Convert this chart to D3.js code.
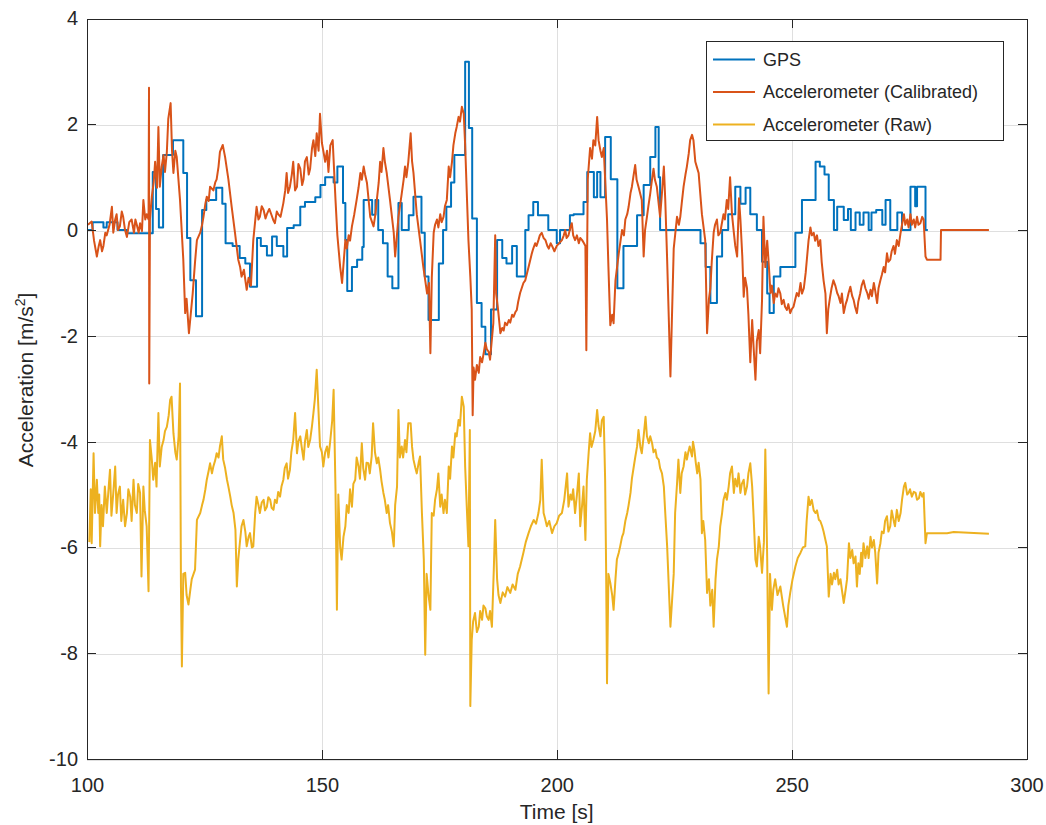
<!DOCTYPE html>
<html>
<head>
<meta charset="utf-8">
<script src="https://cdn.jsdelivr.net/npm/d3@7"></script>
<style>
  html, body { margin: 0; padding: 0; background: #fff; }
  svg { display: block; font-family: "Liberation Sans", Arial, Helvetica, sans-serif; }
  .grid line { stroke: #dfdfdf; shape-rendering: crispEdges; }
  .axis path, .axis line { stroke: #262626; shape-rendering: crispEdges; }
  .axis text { fill: #262626; font-size: 20px; }
</style>
</head>
<body>
<div id="chart"></div>
<script>
// time [s], acceleration [m/s^2]
var gps = [
  [100, 0], [101.2, 0.15], [103.5, 0.05], [104.2, 0.15], [106.5, 0.0], [108.5, -0.06],
  [114.0, 1.1], [114.7, 0.4], [115.3, 0.05], [116.2, 1.42], [118.3, 1.7], [120.5, 1.08],
  [121.3, -0.15], [122.0, -0.95], [123.2, -1.63], [124.5, 0.38], [125.4, 0.57], [127.5, 0.8],
  [128.8, 0.5], [129.5, -0.25], [131.0, -0.3], [132.5, -0.53], [133.7, -0.63], [134.7, -1.07],
  [136.2, -0.15], [137.0, -0.3], [138.3, -0.48], [139.4, -0.12], [140.4, -0.3], [141.8, -0.5],
  [142.6, 0.04], [144.0, 0.09], [145.4, 0.44], [146.4, 0.53], [148.6, 0.62], [149.7, 0.85],
  [150.7, 1.0], [152.5, 0.9], [153.3, 1.2], [154.5, 0.51], [155.0, -0.19], [155.4, -1.15],
  [156.4, -0.7], [157.5, -0.56], [158.6, -0.32], [158.9, 0.57], [160.7, 0.29], [161.4, 0.57],
  [162.0, 0.0], [163.0, -0.25], [164.0, -0.88], [165.0, -1.1], [166.3, 0.51], [167.0, 0.0],
  [168.5, 0.28], [169.5, 0.63], [171.2, -0.05], [171.9, -0.88], [172.7, -1.7], [174.9, -0.63],
  [175.8, 0.0], [176.5, 0.44], [177.5, 0.9], [178.2, 1.42], [180.5, 3.18], [181.3, 1.93],
  [182.0, 0.22], [183.0, -1.38], [184.0, -1.83], [184.8, -2.35], [186.0, -1.5], [187.3, -0.19],
  [188.4, -0.53], [189.3, -0.63], [190.5, -0.3], [191.5, -0.88], [193.3, 0.0], [194.0, 0.28],
  [195.0, 0.53], [196.0, 0.28], [198.2, 0.0], [200.0, -0.25], [200.7, 0.0], [202.8, 0.28],
  [203.6, 0.3], [205.7, 0.53], [206.5, 1.1], [207.9, 0.62], [208.6, 1.1], [209.3, 0.62],
  [210.3, 1.76], [211.5, 0.96], [212.9, -1.1], [214.2, -0.3], [217.1, 0.28], [218.5, 0.85],
  [219.9, 1.38], [221.0, 1.95], [221.7, 1.0], [222.0, 0.0], [230.6, -0.25], [231.7, -0.7],
  [232.7, -1.38], [234.1, -0.5], [235.2, 0.0], [236.5, 0.3], [238.0, 0.82], [239.1, 0.5],
  [240.2, 0.8], [241.2, 0.3], [242.6, 0.0], [243.7, -0.6], [244.8, -1.2], [245.3, -1.57],
  [246.2, -0.88], [247.6, -0.7], [250.8, -0.05], [252.2, 0.57], [255.1, 1.29], [256.0, 1.2],
  [257.0, 1.05], [257.9, 0.57], [259.0, 0.0], [259.7, 0.44], [261.1, 0.19], [262.0, 0.4],
  [262.6, 0.0], [263.6, 0.33], [264.5, 0.1], [265.3, 0.33], [266.4, 0.0], [267.0, 0.33],
  [268.0, 0.38], [269.3, 0.1], [270.0, 0.57], [271.0, 0.0], [272.5, 0.33], [273.5, 0.0],
  [275.3, 0.82], [276.3, 0.45], [276.7, 0.82], [278.5, 0.0], [279.0, 0.0]
];

var calibrated = [
  [100.2, 0.1], [101.0, 0.16], [101.5, -0.2], [102.1, -0.5], [102.5, -0.3], [102.8, -0.19],
  [103.2, -0.4], [103.5, -0.3], [103.9, -0.05], [104.2, -0.1], [104.8, 0.1], [105.3, 0.44],
  [105.6, -0.05], [106.0, 0.2], [106.3, 0.3], [106.6, 0.0], [107.0, 0.07], [107.4, 0.35],
  [107.7, 0.25], [108.1, 0.0], [108.5, -0.13], [109.0, 0.15], [109.5, 0.2], [110.0, -0.05],
  [110.3, 0.2], [110.6, 0.1], [111.0, -0.05], [111.3, 0.13], [111.7, -0.02], [112.0, 0.57],
  [112.4, 0.2], [112.7, 0.3], [113.1, 0.2], [113.2, 2.69], [113.25, -2.9], [113.4, 0.2],
  [113.8, 0.63], [114.2, 0.9], [114.5, 1.29], [114.9, 0.8], [115.2, 1.95], [115.5, 0.82],
  [115.9, 1.2], [116.3, 1.42], [116.6, 1.1], [117.0, 1.48], [117.3, 2.1], [117.8, 2.4],
  [118.1, 1.5], [118.4, 1.08], [118.8, 1.5], [119.1, 1.38], [119.8, 0.57], [120.5, -0.56],
  [120.9, -1.57], [121.2, -1.3], [121.7, -1.95], [122.5, -1.2], [123.0, -0.6], [123.4, -0.19],
  [124.1, -0.05], [124.5, 0.1], [124.8, 0.25], [125.2, 0.5], [125.5, 0.63], [125.9, 0.55],
  [126.2, 0.82], [126.9, 0.75], [127.3, 0.9], [127.6, 0.96], [128.0, 1.2], [128.3, 1.48],
  [128.9, 1.61], [129.4, 1.38], [130.1, 0.96], [130.8, 0.44], [131.5, -0.05], [132.2, -0.56],
  [132.6, -0.7], [132.9, -0.88], [133.4, -0.75], [134.0, -1.13], [134.4, -0.9], [134.9, -1.05],
  [135.4, -0.19], [136.1, 0.44], [136.5, 0.2], [136.8, 0.25], [137.2, 0.45], [137.6, 0.38],
  [138.0, 0.22], [138.3, 0.3], [138.8, 0.4], [139.3, 0.28], [139.7, 0.18], [140.0, 0.13],
  [140.4, 0.35], [140.7, 0.3], [141.2, 0.25], [141.8, 0.51], [142.2, 0.75], [142.5, 1.08],
  [142.8, 0.7], [143.2, 0.82], [143.6, 1.05], [143.9, 1.29], [144.3, 0.75], [144.7, 0.82],
  [145.0, 1.25], [145.4, 1.16], [145.8, 0.85], [146.1, 0.96], [146.4, 1.3], [146.8, 1.38],
  [147.2, 1.05], [147.5, 1.16], [147.9, 1.55], [148.2, 1.7], [148.6, 1.4], [148.9, 1.83],
  [149.3, 1.5], [149.6, 2.2], [150.0, 1.65], [150.4, 1.45], [150.7, 1.29], [151.1, 1.5],
  [151.4, 1.1], [151.8, 1.6], [152.3, 1.7], [152.9, 0.57], [153.3, -0.1], [153.9, -0.7],
  [154.3, -1.0], [155.0, -0.19], [155.3, -0.35], [155.7, -0.1], [156.0, -0.2], [156.4, 0.07],
  [156.9, 0.3], [157.4, 0.57], [157.8, 0.8], [158.2, 1.08], [158.5, 0.95], [158.9, 1.2],
  [159.2, 1.05], [159.6, 0.89], [160.3, 0.25], [161.0, 0.07], [161.4, 0.3], [161.7, 0.57],
  [162.1, 0.9], [162.4, 1.29], [162.7, 1.1], [163.1, 1.55], [163.4, 1.3], [163.8, 1.08],
  [164.5, 0.57], [165.3, -0.05], [165.6, -0.5], [166.3, 0.25], [167.0, 0.69], [167.4, 0.95],
  [167.7, 1.2], [168.0, 1.0], [168.4, 1.29], [168.9, 1.83], [169.2, 1.3], [169.5, 1.08],
  [170.2, 0.3], [170.9, -0.19], [171.6, -0.7], [172.0, -0.95], [172.4, -1.2], [172.8, -1.0],
  [173.1, -2.33], [173.4, -0.9], [173.8, -0.05], [174.1, 0.1], [174.5, 0.2], [174.8, 0.05],
  [175.2, 0.3], [175.5, 0.15], [175.9, 0.25], [176.2, 0.45], [176.6, 0.57], [177.0, 1.2],
  [177.3, 1.0], [177.7, 1.29], [178.0, 1.6], [178.4, 1.83], [178.7, 1.95], [179.1, 2.14],
  [179.4, 2.05], [179.8, 2.33], [180.2, 2.2], [180.5, 1.61], [180.9, 0.57], [181.2, -0.19],
  [181.6, -0.88], [181.9, -1.5], [182.1, -3.5], [182.3, -2.6], [182.6, -2.83], [183.0, -2.55],
  [183.4, -2.7], [183.7, -2.4], [184.1, -2.5], [184.5, -2.3], [184.8, -2.13], [185.1, -2.25],
  [185.5, -2.3], [185.8, -2.45], [186.5, -1.76], [186.9, -0.1], [187.1, -1.2], [187.5, -1.5],
  [188.0, -1.95], [188.4, -1.85], [188.7, -1.9], [189.0, -1.75], [189.4, -1.8], [189.8, -1.7],
  [190.1, -1.75], [190.5, -1.6], [190.8, -1.64], [191.2, -1.55], [191.5, -1.51], [191.8, -1.35],
  [192.2, -1.19], [192.9, -1.0], [193.3, -0.95], [194.0, -0.7], [194.7, -0.44], [195.0, -0.35],
  [195.4, -0.25], [195.7, -0.3], [196.1, -0.19], [196.4, -0.1], [196.8, -0.05], [197.2, -0.15],
  [197.6, -0.19], [198.0, -0.3], [198.3, -0.35], [198.7, -0.25], [199.0, -0.3], [199.5, -0.4],
  [200.0, -0.3], [200.5, -0.25], [201.1, -0.19], [201.5, -0.1], [201.8, 0.0], [202.1, -0.15],
  [202.5, -0.1], [202.9, 0.05], [203.2, 0.13], [203.5, -0.1], [203.9, -0.19], [204.3, -0.1],
  [204.7, -0.25], [205.0, -0.15], [205.4, -0.19], [205.8, -0.25], [206.1, -0.3], [206.3, -2.27],
  [206.6, 0.96], [207.1, 1.55], [207.5, 1.35], [207.8, 1.7], [208.2, 1.6], [208.6, 2.14],
  [208.9, 1.7], [209.3, 1.5], [209.6, 1.38], [210.0, 1.55], [210.3, 0.96], [210.7, 0.2],
  [211.0, -0.7], [211.4, -1.8], [211.8, -1.6], [212.1, -1.76], [212.5, -0.95], [213.2, -0.44],
  [213.9, 0.0], [214.3, -0.1], [214.6, 0.2], [215.0, 0.3], [215.3, 0.44], [215.7, 0.7],
  [216.0, 0.82], [216.3, 1.0], [216.7, 1.23], [217.0, 0.95], [217.4, 0.82], [218.1, 0.57],
  [218.5, -0.5], [218.8, 0.0], [219.2, 0.25], [219.5, 0.45], [219.9, 0.69], [220.2, 0.9],
  [220.6, 1.16], [220.9, 0.95], [221.3, 0.82], [222.0, 0.25], [222.4, 0.7], [222.8, 1.2],
  [223.1, 0.57], [223.5, -0.56], [224.2, -2.77], [224.9, -0.35], [225.6, 0.25], [226.0, 0.1],
  [226.3, 0.25], [226.6, 0.5], [227.0, 0.82], [227.4, 1.05], [227.7, 1.2], [228.1, 1.45],
  [228.4, 1.7], [228.8, 1.8], [229.1, 1.7], [229.5, 1.29], [229.8, 1.2], [230.2, 1.08],
  [230.9, 0.3], [231.6, -0.19], [232.0, -1.95], [232.4, -1.3], [232.7, -1.1], [233.0, -0.6],
  [233.4, -0.05], [233.7, 0.1], [234.1, 0.2], [234.4, -0.1], [234.8, -0.05], [235.1, 0.1],
  [235.5, 0.3], [235.8, 0.2], [236.2, 0.57], [236.5, 0.4], [236.9, 1.0], [237.3, 0.3],
  [237.7, -0.05], [238.0, -0.3], [238.4, -0.5], [238.8, 0.6], [239.1, 0.2], [239.5, -0.5],
  [239.8, -1.26], [240.1, -0.9], [240.5, -1.1], [240.8, -1.6], [241.2, -2.5], [241.6, -1.7],
  [241.9, -2.2], [242.3, -2.83], [242.6, -2.1], [243.0, -1.89], [243.3, -2.33], [243.7, -1.32],
  [244.0, 0.25], [244.4, -0.7], [244.8, -0.2], [245.1, -0.6], [245.5, -1.19], [245.8, -1.05],
  [246.2, -1.38], [246.5, -1.2], [246.9, -1.26], [247.2, -1.1], [247.6, -1.2], [247.9, -1.4],
  [248.3, -1.32], [248.6, -1.45], [249.0, -1.51], [249.3, -1.4], [249.7, -1.57], [250.0, -1.5],
  [250.4, -1.45], [250.8, -1.3], [251.1, -1.19], [251.5, -1.25], [251.9, -1.0], [252.2, -1.2],
  [252.6, -1.1], [253.0, -0.8], [253.3, -0.5], [253.6, -0.2], [254.0, 0.05], [254.3, -0.1],
  [254.7, -0.05], [255.0, -0.2], [255.4, -0.1], [255.7, -0.3], [256.1, -0.19], [256.4, -0.6],
  [256.8, -0.95], [257.2, -1.2], [257.5, -1.95], [257.8, -1.5], [258.2, -1.26], [258.5, -1.1],
  [258.9, -0.95], [259.3, -1.05], [259.7, -1.19], [260.0, -1.25], [260.4, -1.38], [260.7, -1.2],
  [261.1, -1.57], [261.5, -1.4], [261.8, -1.32], [262.1, -1.2], [262.5, -1.07], [262.9, -1.25],
  [263.2, -1.32], [263.5, -1.45], [263.9, -1.57], [264.2, -1.35], [264.6, -1.2], [264.9, -1.05],
  [265.3, -0.95], [265.7, -1.1], [266.1, -1.19], [266.4, -1.3], [266.8, -1.13], [267.1, -1.25],
  [267.5, -1.0], [267.8, -1.15], [268.2, -1.38], [268.5, -1.1], [268.9, -0.95], [269.2, -0.85],
  [269.6, -0.7], [269.9, -0.8], [270.3, -0.44], [270.6, -0.6], [271.0, -0.56], [271.3, -0.4],
  [271.7, -0.3], [272.0, -0.45], [272.4, -0.19], [272.8, -0.3], [273.2, -0.05], [273.5, 0.1],
  [273.9, 0.3], [274.2, 0.1], [274.6, 0.2], [274.9, 0.05], [275.3, 0.3], [275.6, 0.1],
  [276.0, 0.2], [276.3, 0.05], [276.7, 0.25], [277.0, 0.1], [277.4, 0.13], [277.8, 0.25],
  [278.1, 0.2], [278.5, -0.5], [278.8, -0.56], [281.7, -0.56], [281.8, 0.0], [292.0, 0.0]
];

var raw = [
  [100.5, -5.9], [100.8, -4.9], [101.0, -5.92], [101.4, -4.22], [101.7, -5.35], [102.1, -4.72],
  [102.4, -5.35], [102.6, -5.0], [102.8, -5.98], [103.1, -5.2], [103.4, -5.6], [103.8, -4.85],
  [104.2, -5.35], [104.5, -5.0], [104.9, -4.53], [105.2, -5.4], [105.6, -4.97], [106.0, -4.47],
  [106.3, -5.35], [106.6, -5.0], [107.0, -4.85], [107.3, -5.5], [107.7, -5.1], [108.1, -5.6],
  [108.5, -5.35], [108.8, -4.9], [109.2, -5.04], [109.5, -5.5], [109.9, -4.72], [110.2, -5.2],
  [110.6, -5.35], [110.9, -4.8], [111.3, -4.97], [111.6, -6.55], [112.0, -4.85], [112.3, -5.3],
  [112.7, -5.6], [113.1, -6.83], [113.4, -3.97], [113.8, -4.34], [114.1, -4.72], [114.5, -4.4],
  [114.8, -4.85], [115.2, -3.46], [115.5, -4.47], [115.9, -4.1], [116.3, -3.97], [116.6, -3.8],
  [117.0, -3.72], [117.4, -3.5], [117.7, -3.21], [118.0, -3.15], [118.4, -3.84], [118.8, -4.2],
  [119.1, -4.34], [119.5, -3.9], [119.8, -2.9], [120.0, -6.74], [120.2, -8.25], [120.5, -6.5],
  [120.9, -6.48], [121.2, -6.9], [121.6, -7.08], [122.0, -6.8], [122.3, -6.6], [123.0, -6.42],
  [123.4, -5.48], [124.1, -5.35], [124.5, -5.2], [124.8, -5.1], [125.2, -4.9], [125.5, -4.72],
  [125.9, -4.55], [126.2, -4.41], [126.6, -4.6], [126.9, -4.47], [127.3, -4.35], [127.6, -4.22],
  [128.0, -4.3], [128.3, -4.09], [128.7, -3.9], [129.0, -4.34], [129.4, -4.5], [129.8, -4.72],
  [130.1, -4.85], [130.5, -5.04], [130.8, -5.2], [131.2, -5.35], [131.6, -5.67], [131.9, -6.74],
  [132.2, -6.23], [132.6, -5.86], [132.9, -5.6], [133.3, -5.48], [133.7, -5.7], [134.0, -5.98],
  [134.4, -5.8], [134.7, -5.73], [135.1, -6.0], [135.4, -5.98], [135.8, -5.35], [136.1, -5.04],
  [136.5, -5.2], [136.8, -5.35], [137.2, -5.15], [137.6, -5.1], [137.9, -5.3], [138.3, -5.23],
  [138.6, -5.05], [139.0, -5.1], [139.3, -5.25], [139.7, -5.29], [140.0, -5.1], [140.4, -5.16],
  [140.7, -4.95], [141.1, -5.04], [141.4, -4.85], [141.8, -4.72], [142.1, -4.5], [142.5, -4.41],
  [142.8, -4.7], [143.2, -4.53], [143.5, -4.2], [143.9, -3.97], [144.3, -3.46], [144.7, -4.22],
  [145.0, -4.0], [145.4, -3.9], [145.7, -4.1], [146.1, -4.34], [146.4, -4.0], [146.8, -3.78],
  [147.1, -4.1], [147.5, -3.97], [147.9, -3.7], [148.2, -3.46], [148.5, -3.2], [148.9, -2.64],
  [149.3, -3.46], [149.6, -4.09], [150.0, -4.2], [150.3, -4.47], [150.7, -4.2], [151.1, -4.09],
  [151.4, -4.3], [151.8, -3.97], [152.2, -3.6], [152.5, -3.02], [152.9, -4.9], [153.2, -7.18],
  [153.5, -5.0], [153.9, -6.0], [154.2, -6.23], [154.6, -5.8], [155.0, -5.6], [155.3, -5.2],
  [155.7, -5.35], [156.0, -4.9], [156.4, -5.23], [156.7, -4.8], [157.1, -4.72], [157.4, -4.3],
  [157.8, -4.47], [158.1, -4.7], [158.5, -4.03], [158.8, -4.5], [159.2, -4.72], [159.5, -4.4],
  [159.9, -4.41], [160.2, -4.6], [160.6, -4.28], [160.9, -3.65], [161.3, -4.2], [161.7, -4.41],
  [162.0, -4.3], [162.4, -4.53], [162.7, -4.75], [163.1, -4.97], [163.4, -5.1], [163.8, -5.35],
  [164.1, -5.2], [164.5, -5.54], [164.9, -5.7], [165.3, -5.98], [165.6, -5.2], [166.0, -4.85],
  [166.3, -3.4], [166.6, -4.3], [167.0, -4.09], [167.3, -4.3], [167.7, -3.97], [168.0, -4.2],
  [168.4, -3.65], [168.9, -3.65], [169.2, -4.1], [169.5, -4.34], [169.9, -4.5], [170.2, -4.6],
  [170.6, -4.4], [170.9, -4.28], [171.3, -5.35], [171.7, -6.23], [172.0, -8.03], [172.3, -6.5],
  [172.7, -6.9], [173.1, -7.18], [173.4, -5.35], [173.8, -5.4], [174.1, -5.1], [174.5, -4.9],
  [174.8, -4.6], [175.2, -5.23], [175.5, -5.0], [175.9, -5.35], [176.2, -5.1], [176.6, -5.35],
  [177.0, -4.47], [177.3, -4.7], [177.7, -4.09], [178.0, -4.3], [178.4, -3.84], [178.7, -3.9],
  [179.1, -3.59], [179.4, -3.7], [179.8, -3.15], [180.2, -3.34], [180.5, -4.47], [180.9, -5.35],
  [181.2, -5.98], [181.5, -3.78], [181.6, -9.0], [181.9, -7.75], [182.2, -7.4], [182.6, -7.24],
  [183.0, -7.6], [183.4, -7.5], [183.7, -7.2], [184.1, -7.37], [184.4, -7.1], [184.8, -7.15],
  [185.1, -7.3], [185.5, -7.37], [185.8, -7.2], [186.2, -7.5], [186.6, -6.42], [186.9, -5.48],
  [187.3, -6.6], [187.6, -6.9], [188.0, -7.05], [188.5, -6.85], [189.0, -6.93], [189.5, -6.75],
  [190.1, -6.86], [190.6, -6.7], [191.2, -6.8], [191.7, -6.5], [192.2, -6.36], [192.9, -6.1],
  [193.4, -5.9], [194.0, -5.73], [194.5, -5.6], [195.1, -5.48], [195.6, -5.55], [196.1, -5.35],
  [196.5, -5.1], [196.8, -4.34], [197.2, -5.35], [197.5, -5.45], [197.9, -5.6], [198.4, -5.5],
  [199.0, -5.73], [199.5, -5.6], [200.0, -5.54], [200.5, -5.4], [201.1, -5.35], [201.6, -5.1],
  [202.2, -4.6], [202.5, -5.23], [202.9, -5.0], [203.2, -5.1], [203.5, -4.9], [203.9, -5.35],
  [204.3, -5.0], [204.7, -4.6], [205.0, -5.6], [205.4, -5.2], [205.7, -4.85], [206.1, -5.86],
  [206.4, -4.72], [206.8, -4.2], [207.1, -3.84], [207.4, -4.1], [207.8, -3.97], [208.2, -3.8],
  [208.6, -3.4], [208.9, -3.7], [209.3, -3.9], [209.6, -3.6], [210.0, -3.53], [210.3, -4.72],
  [210.5, -6.3], [210.7, -8.57], [211.0, -6.5], [211.4, -6.67], [211.8, -6.9], [212.1, -7.18],
  [212.5, -6.6], [212.8, -6.23], [213.2, -6.1], [213.5, -5.98], [213.9, -5.8], [214.2, -5.73],
  [214.6, -5.5], [215.0, -5.35], [215.3, -5.2], [215.7, -4.97], [216.0, -4.7], [216.4, -4.47],
  [216.7, -4.3], [217.1, -4.09], [217.4, -3.78], [217.8, -4.1], [218.1, -4.22], [218.5, -3.9],
  [218.9, -3.53], [219.2, -3.9], [219.6, -4.03], [219.9, -3.9], [220.3, -4.03], [220.6, -4.2],
  [221.0, -4.15], [221.3, -4.3], [221.7, -4.34], [222.0, -4.5], [222.4, -4.6], [222.8, -4.85],
  [223.1, -5.35], [223.5, -5.98], [224.2, -7.5], [224.9, -6.5], [225.2, -5.35], [225.6, -4.8],
  [225.9, -4.34], [226.3, -4.97], [226.6, -4.6], [227.0, -4.47], [227.4, -4.2], [227.7, -4.34],
  [228.0, -4.2], [228.3, -4.09], [228.8, -4.28], [229.0, -4.0], [229.3, -4.15], [229.6, -4.4],
  [229.9, -4.6], [230.2, -4.4], [230.6, -4.72], [230.9, -5.73], [231.2, -5.5], [231.6, -5.86],
  [232.0, -6.86], [232.4, -6.6], [232.7, -7.1], [233.1, -6.8], [233.4, -7.5], [233.8, -6.6],
  [234.1, -6.23], [234.5, -5.98], [234.8, -5.6], [235.2, -5.35], [235.5, -5.1], [235.9, -4.97],
  [236.2, -5.1], [236.6, -4.85], [236.9, -4.6], [237.3, -4.47], [237.7, -4.97], [238.0, -4.7],
  [238.4, -4.85], [238.7, -4.6], [239.1, -4.97], [239.4, -4.8], [239.8, -4.72], [240.1, -5.0],
  [240.5, -4.85], [240.8, -4.6], [241.2, -4.41], [241.6, -4.85], [241.9, -5.4], [242.3, -6.23],
  [242.6, -6.36], [243.0, -5.8], [243.3, -6.0], [243.7, -6.48], [244.1, -5.9], [244.4, -4.15],
  [244.8, -6.2], [245.1, -8.76], [245.4, -6.5], [245.8, -7.18], [246.1, -6.8], [246.5, -6.6],
  [247.0, -6.9], [247.6, -6.74], [248.2, -7.1], [249.0, -7.5], [249.3, -7.1], [249.7, -6.86],
  [250.2, -6.6], [250.8, -6.36], [251.3, -6.2], [251.9, -6.1], [252.4, -6.0], [252.9, -5.98],
  [253.2, -5.5], [253.6, -5.04], [253.9, -5.2], [254.3, -5.1], [254.7, -5.3], [255.1, -5.35],
  [255.4, -5.3], [255.8, -5.48], [256.1, -5.5], [256.5, -5.6], [256.8, -5.7], [257.2, -5.86],
  [257.5, -5.98], [257.9, -6.93], [258.3, -6.5], [258.6, -6.7], [259.0, -6.48], [259.3, -6.6],
  [259.7, -6.42], [260.0, -6.7], [260.4, -6.6], [260.7, -6.8], [261.1, -7.05], [261.5, -6.8],
  [261.8, -6.6], [262.2, -5.92], [262.5, -6.2], [262.9, -6.05], [263.2, -6.3], [263.6, -6.17],
  [263.9, -6.74], [264.2, -6.3], [264.5, -6.5], [264.8, -6.1], [265.0, -6.36], [265.3, -5.92],
  [265.7, -6.2], [266.1, -5.98], [266.4, -6.2], [266.8, -5.8], [267.1, -6.0], [267.5, -5.86],
  [267.8, -6.1], [268.2, -6.68], [268.5, -6.1], [268.9, -5.92], [269.2, -5.7], [269.6, -5.73],
  [269.9, -5.5], [270.3, -5.41], [270.6, -5.7], [271.0, -5.6], [271.3, -5.3], [271.7, -5.48],
  [272.0, -5.6], [272.4, -5.29], [272.8, -5.5], [273.2, -5.35], [273.5, -5.1], [273.9, -4.85],
  [274.2, -4.78], [274.6, -5.0], [274.9, -4.97], [275.2, -4.9], [275.6, -5.04], [276.0, -4.95],
  [276.4, -4.97], [276.7, -5.1], [277.1, -5.07], [277.4, -4.95], [277.8, -5.04], [278.1, -4.97],
  [278.5, -5.92], [278.8, -5.73], [283.1, -5.73], [284.5, -5.71], [292.0, -5.74]
];

var xTicks = [100, 150, 200, 250, 300];
var yTicks = [-10, -8, -6, -4, -2, 0, 2, 4];
var seriesNames = ['GPS', 'Accelerometer (Calibrated)', 'Accelerometer (Raw)'];
var seriesColors = ['#0072BD', '#D95319', '#EDB120'];

var width = 1046;
var height = 825;
var margin = { top: 18.5, right: 19.5, bottom: 66, left: 87 };
var innerW = width - margin.left - margin.right;
var innerH = height - margin.top - margin.bottom;

var x = d3.scaleLinear().domain([100, 300]).range([0, innerW]);
var y = d3.scaleLinear().domain([-10, 4]).range([innerH, 0]);

// plain hyphen minus like the original figure
var fmt = function(d) { return String(d); };

var svg = d3.select('#chart').append('svg')
  .attr('width', width)
  .attr('height', height);

var g = svg.append('g')
  .attr('transform', 'translate(' + margin.left + ',' + margin.top + ')');

// grid
var grid = g.append('g').attr('class', 'grid');
grid.selectAll('line.gx').data(xTicks).enter().append('line')
  .attr('class', 'gx')
  .attr('x1', function(d) { return Math.round(x(d)) + 0.5; })
  .attr('x2', function(d) { return Math.round(x(d)) + 0.5; })
  .attr('y1', 0).attr('y2', innerH);
grid.selectAll('line.gy').data(yTicks).enter().append('line')
  .attr('class', 'gy')
  .attr('y1', function(d) { return Math.round(y(d)) + 0.5; })
  .attr('y2', function(d) { return Math.round(y(d)) + 0.5; })
  .attr('x1', 0).attr('x2', innerW);

g.append('clipPath').attr('id', 'plot-clip')
  .append('rect').attr('width', innerW).attr('height', innerH);

var plot = g.append('g').attr('clip-path', 'url(#plot-clip)');

var lineStep = d3.line()
  .x(function(d) { return x(d[0]); })
  .y(function(d) { return y(d[1]); })
  .curve(d3.curveStepAfter);

var lineStraight = d3.line()
  .x(function(d) { return x(d[0]); })
  .y(function(d) { return y(d[1]); });

plot.append('path').datum(gps)
  .attr('d', lineStep)
  .attr('fill', 'none').attr('stroke', seriesColors[0])
  .attr('stroke-width', 2).attr('stroke-linejoin', 'round');

plot.append('path').datum(calibrated)
  .attr('d', lineStraight)
  .attr('fill', 'none').attr('stroke', seriesColors[1])
  .attr('stroke-width', 2).attr('stroke-linejoin', 'round');

plot.append('path').datum(raw)
  .attr('d', lineStraight)
  .attr('fill', 'none').attr('stroke', seriesColors[2])
  .attr('stroke-width', 2).attr('stroke-linejoin', 'round');

// axes, ticks pointing inward on all four sides
var tick = 9;
g.append('g').attr('class', 'axis')
  .attr('transform', 'translate(0,' + innerH + ')')
  .call(d3.axisBottom(x).tickValues(xTicks).tickFormat(fmt).tickSizeInner(-tick).tickSizeOuter(0).tickPadding(19));
g.append('g').attr('class', 'axis')
  .call(d3.axisTop(x).tickValues(xTicks).tickSizeInner(-tick).tickSizeOuter(0).tickFormat(''));
g.append('g').attr('class', 'axis')
  .call(d3.axisLeft(y).tickValues(yTicks).tickFormat(fmt).tickSizeInner(-tick).tickSizeOuter(0).tickPadding(9));
g.append('g').attr('class', 'axis')
  .attr('transform', 'translate(' + innerW + ',0)')
  .call(d3.axisRight(y).tickValues(yTicks).tickSizeInner(-tick).tickSizeOuter(0).tickFormat(''));

// axis labels
svg.append('text')
  .attr('x', margin.left + x(200)).attr('y', 819)
  .attr('text-anchor', 'middle')
  .attr('fill', '#262626').attr('font-size', 21)
  .text('Time [s]');

var yl = svg.append('text')
  .attr('transform', 'translate(33,380) rotate(-90)')
  .attr('text-anchor', 'middle')
  .attr('fill', '#262626').attr('font-size', 21);
yl.append('tspan').text('Acceleration [m/s');
yl.append('tspan').attr('font-size', 14).attr('dy', -8).text('2');
yl.append('tspan').attr('dy', 8).text(']');

// legend
var legend = svg.append('g').attr('transform', 'translate(706,41)');
legend.append('rect')
  .attr('x', 0.5).attr('y', 0.5).attr('width', 297).attr('height', 99)
  .attr('fill', '#fff').attr('stroke', '#262626').attr('stroke-width', 1)
  .attr('shape-rendering', 'crispEdges');
var rows = legend.selectAll('g.row').data(seriesNames).enter().append('g')
  .attr('transform', function(d, i) { return 'translate(0,' + (18.5 + i * 32.5) + ')'; });
rows.append('line')
  .attr('x1', 7).attr('x2', 49).attr('y1', 0).attr('y2', 0)
  .attr('stroke', function(d, i) { return seriesColors[i]; })
  .attr('stroke-width', 2);
rows.append('text')
  .attr('x', 57).attr('y', 0).attr('dy', '0.35em')
  .attr('fill', '#262626').attr('font-size', 18)
  .text(function(d) { return d; });
</script>
</body>
</html>
